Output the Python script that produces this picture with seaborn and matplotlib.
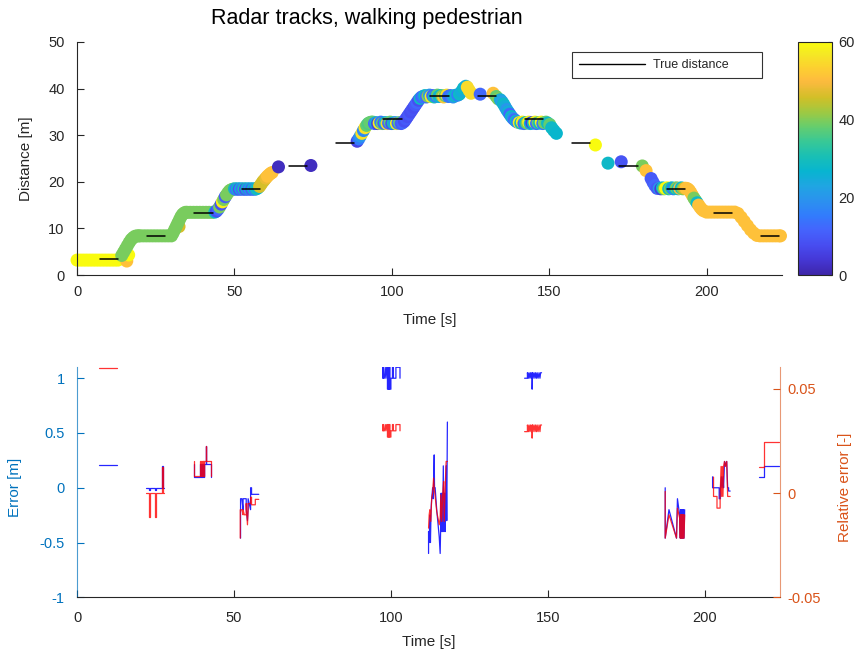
import matplotlib
matplotlib.use("Agg")
import matplotlib.pyplot as plt
import numpy as np
import pandas as pd
import seaborn as sns
from matplotlib.colors import LinearSegmentedColormap, Normalize
from matplotlib.lines import Line2D

# ---------------- data: radar track (time, distance, colour value) ----------------
track_t = [
    0, 1, 2, 3, 4, 5, 6, 7, 8, 9, 10, 11, 12, 13,
    15.0, 15.8, 16.4,
    14.2, 14.8, 15.4, 16.0, 16.6, 17.2, 17.8, 18.4, 19.0, 19.6,
    20, 21, 22, 23, 24, 25, 26, 27, 28, 29, 30,
    32.4,
    30.5, 31.0, 31.5, 32.0, 32.5, 33.0, 33.5, 34.0, 34.5,
    35, 36, 37, 38, 39, 40, 41, 42, 43,
    43.8, 44.3, 44.8, 45.3, 45.8, 46.2, 46.6, 47.1, 47.5, 48.0, 48.5, 49.0, 49.5,
    50.0, 50.5, 51.0, 51.5, 52.0, 52.5, 53.0, 53.5, 54.0, 54.5, 55.0, 55.5, 56.0, 56.5, 57.0, 57.5,
    58.0, 58.5, 59.0, 59.5, 60.0, 60.5, 61.0, 61.5, 62.0,
    64.0, 74.3,
    89.0, 89.5, 90.0, 90.5, 91.0, 91.5, 92.0, 92.5, 93.0, 93.5,
    94.0, 94.5, 95.0, 95.5, 96.0, 96.5, 97.0, 97.5, 98.0, 98.5,
    99.0, 99.5, 100.0, 100.5, 101.0, 101.5, 102.0, 102.5, 103.0, 103.5,
    104.0, 104.5, 105.0, 105.5, 106.0, 106.5, 107.0, 107.5, 108.0, 108.5, 109.0, 109.5,
    110.0, 110.5, 111.0, 111.5, 112.0, 112.5, 113.0, 113.5, 114.0, 114.5, 115.0, 115.5,
    116.0, 116.5, 117.0, 117.5, 118.0, 118.5, 119.0, 119.5, 120.0, 120.5, 121.0, 121.5,
    122.2, 122.8, 123.5, 124.0, 124.6, 125.2,
    128.1, 132.2, 133.2, 133.8,
    134.5, 135.0, 135.5, 136.0, 136.5, 137.0, 137.5, 138.0, 138.5, 139.0, 139.5, 140.0, 140.5,
    141.0, 141.5, 142.0, 142.5, 143.0, 143.5, 144.0, 144.5, 145.0, 145.5, 146.0, 146.5,
    147.0, 147.5, 148.0, 148.5, 149.0, 149.5,
    150.2, 150.8, 151.5, 152.3,
    164.7, 168.7, 172.9, 179.6, 180.8,
    182.4, 183.0, 183.6, 184.3,
    185.0, 185.5, 186.0, 186.5, 187.0, 187.5, 188.0, 188.5, 189.0, 189.5,
    190.0, 190.5, 191.0, 191.5, 192.0, 192.5, 193.0, 193.5, 194.0,
    194.5, 195.0, 195.5, 196.0, 196.5, 197.0, 197.5, 198.0, 198.5, 199.0,
    200, 201, 202, 203, 204, 205, 206, 207, 208, 209,
    210, 211, 212, 213, 214, 215, 216,
    217, 218, 219, 220, 221, 222, 223, 223.5,
]
track_d = [
    3.2, 3.2, 3.2, 3.2, 3.2, 3.2, 3.2, 3.2, 3.2, 3.2, 3.2, 3.2, 3.2, 3.2,
    3.6, 3.0, 4.3,
    4.2, 4.9, 5.6, 6.3, 7.0, 7.6, 8.0, 8.3, 8.4, 8.4,
    8.4, 8.4, 8.4, 8.4, 8.4, 8.4, 8.4, 8.4, 8.4, 8.4, 8.4,
    10.4,
    9.0, 9.7, 10.4, 11.1, 11.8, 12.5, 13.0, 13.3, 13.45,
    13.45, 13.45, 13.45, 13.45, 13.45, 13.45, 13.45, 13.45, 13.45,
    13.5, 13.7, 14.1, 14.6, 15.2, 15.7, 16.2, 16.8, 17.2, 17.7, 18.1, 18.3, 18.4,
    18.5, 18.4, 18.5, 18.4, 18.5, 18.4, 18.5, 18.4, 18.5, 18.4, 18.5, 18.4, 18.5, 18.4, 18.5, 18.7,
    19.0, 19.5, 20.0, 20.4, 20.8, 21.2, 21.5, 21.8, 22.0,
    23.2, 23.5,
    28.7, 29.2, 29.8, 30.4, 31.0, 31.6, 32.1, 32.5, 32.7, 32.8,
    32.8, 32.5, 32.7, 32.5, 32.6, 32.8, 32.5, 32.6, 32.7, 32.5,
    32.6, 32.8, 32.5, 32.6, 32.7, 32.5, 32.6, 32.7, 32.5, 32.7,
    33.0, 33.5, 34.0, 34.5, 35.0, 35.5, 36.0, 36.5, 37.0, 37.5, 37.9, 38.2,
    38.3, 38.5, 38.2, 38.4, 38.6, 38.3, 38.5, 38.2, 38.4, 38.6, 38.3, 38.5,
    38.4, 38.2, 38.5, 38.6, 38.3, 38.5, 38.4, 38.2, 38.5, 38.6, 38.6, 38.8,
    39.4, 40.1, 40.5, 40.3, 39.6, 39.0,
    38.8, 39.0, 38.3, 37.8,
    37.6, 37.2, 36.7, 36.1, 35.5, 35.0, 34.5, 34.0, 33.6, 33.3, 33.0, 32.8, 32.7,
    32.6, 32.8, 32.5, 32.7, 32.6, 32.8, 32.5, 32.7, 32.6, 32.8, 32.5, 32.7,
    32.6, 32.8, 32.5, 32.7, 32.8, 32.6,
    32.3, 31.6, 31.0, 30.4,
    27.9, 24.0, 24.3, 23.4, 22.4,
    20.7, 19.9, 19.2, 18.6,
    18.6, 18.5, 18.7, 18.5, 18.6, 18.7, 18.5, 18.6, 18.7, 18.5,
    18.6, 18.7, 18.5, 18.6, 18.7, 18.5, 18.6, 18.6, 18.5,
    18.2, 17.7, 17.1, 16.5, 16.0, 15.5, 15.0, 14.5, 14.1, 13.8,
    13.5, 13.5, 13.5, 13.5, 13.5, 13.5, 13.5, 13.5, 13.5, 13.5,
    13.2, 12.4, 11.5, 10.6, 9.7, 9.0, 8.5,
    8.4, 8.4, 8.4, 8.4, 8.4, 8.4, 8.4, 8.4,
]
track_c = [
    60, 60, 60, 60, 60, 60, 60, 60, 60, 60, 60, 60, 60, 60,
    60, 51, 60,
    39.5, 39.5, 39.5, 39.5, 39.5, 39.5, 39.5, 39.5, 39.5, 39.5,
    39.5, 39.5, 39.5, 39.5, 39.5, 39.5, 39.5, 39.5, 39.5, 39.5, 39.5,
    46,
    39.5, 39.5, 39.5, 39.5, 39.5, 39.5, 39.5, 39.5, 39.5,
    39.5, 39.5, 39.5, 39.5, 39.5, 39.5, 39.5, 39.5, 39.5,
    28, 8, 12, 39.5, 8, 58, 39.5, 10, 39.5, 39.5, 39.5, 39.5, 39.5,
    30, 14, 28, 9, 25, 12, 30, 8, 28, 12, 25, 10, 28, 15, 30, 28,
    46, 46, 46, 46, 48, 51, 51, 51, 51,
    2, 2,
    6, 15, 20, 56, 18, 56, 38, 36, 38, 38,
    38, 12, 25, 5, 58, 15, 38, 10, 28, 55,
    12, 38, 8, 30, 20, 58, 12, 38, 10, 12,
    8, 10, 8, 10, 8, 9, 8, 10, 12, 8, 28, 12,
    15, 28, 12, 40, 20, 58, 12, 30, 15, 38, 25, 28,
    40, 52, 38, 55, 15, 12, 15, 20, 28, 25, 15, 28,
    25, 28, 25, 55, 55, 55,
    12, 51, 38, 40,
    25, 22, 28, 25, 20, 25, 12, 28, 20, 12, 28, 15, 58,
    28, 58, 12, 28, 40, 58, 25, 5, 28, 58, 12, 38,
    28, 58, 15, 40, 38, 28,
    38, 28, 28, 27,
    60, 28, 9, 39.5, 51,
    10, 10, 12, 10,
    20, 5, 28, 39.5, 60, 60, 28, 39.5, 28, 15,
    28, 40, 30, 50, 28, 39.5, 46, 51, 51,
    51, 51, 51, 39.5, 39.5, 28, 51, 51, 51, 51,
    51, 51, 51, 51, 51, 51, 51, 51, 51, 51,
    51, 51, 51, 51, 51, 51, 51,
    51, 51, 51, 51, 51, 51, 51, 51,
]

# ---------------- data: true distance stations ----------------
true_start = [7.3, 22.3, 37.3, 52.3, 67.3, 82.3, 97.3, 112.3, 127.3, 142.3, 157.3, 172.3, 187.3, 202.3, 217.3]
true_end = [13.1, 28.1, 43.1, 58.1, 73.1, 88.1, 103.1, 118.1, 133.1, 148.1, 163.1, 178.1, 193.1, 208.1, 223.1]
true_dist = [3.4, 8.4, 13.4, 18.4, 23.4, 28.4, 33.4, 38.4, 38.4, 33.4, 28.4, 23.4, 18.4, 13.4, 8.4]

# ---------------- data: absolute error [m] ----------------
err_t = [
    7.1, 12.7,
    21.9, 23.0, 23.0, 23.3, 23.3, 24.9, 24.9, 25.2, 25.2, 27.2, 27.2, 27.4, 27.4, 27.8,
    37.2, 37.2, 39.1, 39.1, 39.6, 39.6, 39.8, 39.8, 40.0, 40.0, 40.2, 40.2, 40.4, 40.4, 40.6, 40.6,
    41.0, 41.0, 41.15, 41.15, 42.8, 42.8,
    52.1, 52.1, 52.5, 52.9, 52.9, 53.9, 53.9, 54.3, 54.5, 54.5, 55.3, 55.3, 55.6, 55.6, 57.9,
    97.4, 97.4, 97.6, 97.6, 97.9, 98.2, 98.4, 98.7, 98.9, 98.9, 99.1, 99.1, 99.3, 99.3,
    99.5, 99.5, 99.7, 99.7, 100.0, 100.0, 100.5, 100.5, 100.8, 100.8, 101.6, 101.6, 102.9, 102.9,
    112.0, 112.0, 112.2, 112.4, 112.6, 112.8, 113.0, 113.3, 113.5, 113.8, 113.9, 114.1, 114.6,
    115.4, 115.7, 115.9, 116.0, 116.1, 116.3, 116.5, 116.7, 116.9, 117.1, 117.3, 117.6, 117.8, 118.0,
    142.6, 143.5, 143.5, 143.8, 144.0, 144.3, 144.5, 144.8, 145.0, 145.0, 145.1,
    145.3, 145.6, 145.9, 146.1, 146.4, 146.6, 146.9, 147.2, 147.5, 147.7, 148.0,
    187.4, 187.4, 188.6, 191.0, 191.3, 192.0, 192.2, 192.3, 192.5, 192.6, 192.8, 192.9,
    193.1, 193.2, 193.4, 193.6,
    202.5, 202.5, 204.6, 204.6, 205.0, 205.0, 205.3, 205.5, 205.8, 206.0, 206.3, 206.6,
    207.0, 207.3, 207.6, 207.6, 208.1,
    217.4, 219.0, 219.0, 223.5,
]
err_v = [
    0.204, 0.204,
    0.0, 0.0, -0.025, -0.025, 0.0, 0.0, -0.025, -0.025, 0.0, 0.0, 0.2, 0.2, 0.0, 0.0,
    0.22, 0.1, 0.1, 0.22, 0.22, 0.1, 0.1, 0.22, 0.22, 0.1, 0.1, 0.22, 0.22, 0.1, 0.1, 0.22,
    0.22, 0.38, 0.38, 0.22, 0.22, 0.1,
    -0.46, -0.1, -0.1, -0.2, -0.1, -0.1, -0.2, -0.3, -0.2, -0.1, -0.2, 0.0, 0.0, -0.06, -0.06,
    1.0, 1.1, 1.1, 1.0, 1.0, 1.1, 1.0, 1.1, 1.1, 0.9, 0.9, 1.1, 1.1, 0.9,
    0.9, 1.1, 1.1, 0.9, 0.9, 1.0, 1.0, 1.1, 1.1, 1.0, 1.0, 1.1, 1.1, 1.0,
    -0.6, -0.4, -0.5, -0.25, -0.5, -0.2, -0.1, 0.0, -0.1, 0.3, 0.0, 0.0, -0.2,
    -0.45, -0.6, -0.3, -0.05, -0.4, -0.05, -0.4, 0.2, -0.4, -0.05, -0.4, 0.2, -0.3, 0.6,
    1.0, 1.0, 1.05, 1.0, 1.05, 1.0, 1.05, 1.0, 1.05, 0.9, 1.05,
    1.0, 1.05, 1.0, 1.05, 1.0, 1.05, 1.0, 1.05, 1.0, 1.05, 1.05,
    0.0, -0.46, -0.2, -0.46, -0.1, -0.25, -0.46, -0.2, -0.46, -0.2, -0.46, -0.2,
    -0.46, -0.2, -0.46, -0.2,
    0.1, 0.0, 0.0, -0.1, -0.1, 0.0, 0.1, 0.0, 0.1, 0.0, 0.24, 0.2,
    0.24, 0.0, 0.0, -0.03, -0.03,
    0.1, 0.1, 0.198, 0.198,
]
err_seg = (
    [1] * 2 + [2] * 14 + [3] * 22 + [4] * 15 + [7] * 28 + [8] * 27
    + [10] * 22 + [13] * 16 + [14] * 17 + [15] * 4
)

# ---------------- data: relative error [-] ----------------
rel_t = [
    7.1, 12.7,
    21.9, 23.0, 23.0, 23.3, 23.3, 24.9, 24.9, 25.2, 25.2, 27.2, 27.2, 27.4, 27.4, 27.8,
    37.2, 37.2, 39.1, 39.1, 39.6, 39.6, 39.8, 39.8, 40.0, 40.0, 40.2, 40.2, 40.4, 40.4, 40.6, 40.6,
    41.0, 41.0, 41.15, 41.15, 42.8, 42.8,
    52.0, 52.0, 52.5, 52.9, 52.9, 53.3, 53.9, 53.9, 54.3, 54.5, 54.5, 55.3, 55.3, 55.6, 55.6,
    56.8, 56.8, 57.9,
    97.4, 97.4, 97.6, 97.6, 97.9, 98.2, 98.4, 98.7, 98.9, 98.9, 99.1, 99.1, 99.3, 99.3,
    99.5, 99.5, 99.7, 99.7, 100.0, 100.0, 100.5, 100.5, 100.8, 100.8, 101.6, 101.6, 102.9, 102.9,
    112.0, 112.2, 112.4, 112.7, 113.0, 113.3, 113.6, 113.8, 114.1, 114.6, 115.4, 115.7,
    115.9, 116.2, 116.5, 116.8, 117.0, 117.3, 117.6, 118.0,
    142.6, 143.5, 143.5, 143.8, 144.0, 144.3, 144.5, 144.8, 145.0, 145.0, 145.1,
    145.3, 145.6, 145.9, 146.1, 146.4, 146.6, 146.9, 147.2, 147.5, 147.7, 148.0,
    187.4, 187.4, 188.6, 191.0, 191.3, 192.0, 192.2, 192.3, 192.5, 192.6, 192.8, 192.9,
    193.1, 193.2, 193.4, 193.6,
    202.8, 202.8, 203.9, 203.9, 204.9, 204.9, 205.2, 205.4, 205.6, 205.8, 206.0, 206.3,
    206.6, 207.0, 207.3, 207.6, 208.1,
    217.4, 219.0, 219.0, 223.5,
]
rel_v = [
    0.0599, 0.0599,
    0.0, 0.0, -0.0117, -0.0117, 0.0, 0.0, -0.0117, -0.0117, 0.0, 0.0, 0.0125, 0.0125, 0.0, 0.0,
    0.0152, 0.008, 0.008, 0.0152, 0.0152, 0.008, 0.008, 0.0152, 0.0152, 0.008, 0.008, 0.0152,
    0.0152, 0.008, 0.008, 0.0152, 0.0152, 0.0228, 0.0228, 0.0152, 0.0152, 0.008,
    -0.0216, -0.008, -0.008, -0.0104, -0.008, -0.0104, -0.0104, -0.005, -0.0152, -0.008, -0.005,
    -0.005, -0.002, -0.002, -0.0056, -0.0056, -0.003, -0.003,
    0.0299, 0.0329, 0.0329, 0.0299, 0.0299, 0.0329, 0.0299, 0.0329, 0.0329, 0.0269, 0.0269,
    0.0329, 0.0329, 0.0269, 0.0269, 0.0329, 0.0329, 0.0269, 0.0269, 0.0299, 0.0299, 0.0329,
    0.0329, 0.0299, 0.0299, 0.0329, 0.0329, 0.0299,
    -0.0168, -0.0104, -0.008, -0.0136, -0.0024, 0.0, 0.0072, 0.0024, -0.0016, -0.0088,
    -0.0152, -0.012, -0.0008, -0.0136, -0.0008, 0.0056, -0.0136, 0.0024, 0.0152, 0.0152,
    0.0295, 0.0295, 0.0327, 0.0295, 0.0327, 0.0295, 0.0327, 0.0295, 0.0327, 0.0264, 0.0327,
    0.0295, 0.0327, 0.0295, 0.0327, 0.0295, 0.0327, 0.0295, 0.0327, 0.0295, 0.0327, 0.0327,
    0.0008, -0.0216, -0.0104, -0.0216, -0.0072, -0.012, -0.0216, -0.0104, -0.0216, -0.0104,
    -0.0216, -0.0104, -0.0216, -0.0104, -0.0216, -0.0104,
    0.0077, -0.0016, -0.0016, -0.0072, -0.0072, -0.0016, 0.0128, -0.0016, 0.0128, -0.0016,
    0.0128, 0.0152, 0.0128, 0.0152, -0.0016, -0.0016, -0.0016,
    0.0123, 0.0123, 0.0243, 0.0243,
]
rel_seg = (
    [1] * 2 + [2] * 14 + [3] * 22 + [4] * 18 + [7] * 28 + [8] * 20
    + [10] * 22 + [13] * 16 + [14] * 17 + [15] * 4
)

colorbar_ticks = [0, 20, 40, 60]

# ---------------- parula-like colormap (row index of a 64-entry map, RGB) ----------------
parula_rows = [0, 4, 8, 12, 16, 20, 24, 28, 32, 36, 40, 41, 42, 44, 48, 52, 53, 56, 60, 63]
parula_rgb = [
    (0.2422, 0.1504, 0.6603), (0.2706, 0.2147, 0.8364), (0.2813, 0.3006, 0.9414),
    (0.2699, 0.3892, 0.9906), (0.1963, 0.4847, 0.9892), (0.1687, 0.5703, 0.9359),
    (0.1248, 0.6459, 0.8883), (0.0297, 0.7082, 0.8163), (0.0964, 0.7489, 0.7120),
    (0.2161, 0.7843, 0.5923), (0.3909, 0.8029, 0.4354), (0.4456, 0.8024, 0.3909),
    (0.5044, 0.7993, 0.3480), (0.6174, 0.7876, 0.2612), (0.8203, 0.7498, 0.1535),
    (0.9728, 0.7298, 0.2394), (0.9956, 0.7434, 0.2371), (0.9892, 0.8136, 0.1885),
    (0.9590, 0.9135, 0.1409), (0.9763, 0.9831, 0.0538),
]
parula = LinearSegmentedColormap.from_list(
    "parula", [(r / 63.0, c) for r, c in zip(parula_rows, parula_rgb)], N=256)

# ---------------- style ----------------
sns.set_theme(style="ticks")
plt.rcParams["font.family"] = ["Liberation Sans", "DejaVu Sans"]
plt.rcParams["axes.unicode_minus"] = False

DARK = "#262626"
LBLUE = (0.0, 0.447, 0.741)
LORANGE = (0.85, 0.325, 0.098)

fig = plt.figure(figsize=(8.56, 6.52), dpi=100)
ax1 = fig.add_axes([0.0900, 0.5782, 0.8236, 0.3574])
cax = fig.add_axes([0.9319, 0.5782, 0.0397, 0.3574])
ax2 = fig.add_axes([0.0900, 0.0839, 0.8213, 0.3528])
ax3 = ax2.twinx()

# ---------------- top plot ----------------
df_track = pd.DataFrame({"t": track_t, "d": track_d, "c": track_c})
sns.scatterplot(data=df_track, x="t", y="d", hue="c", palette=parula, hue_norm=(0, 60),
                s=88, linewidth=0, legend=False, ax=ax1, clip_on=False, zorder=2)

true_rows = []
for i, (a, b, d) in enumerate(zip(true_start, true_end, true_dist)):
    true_rows.append({"t": a, "d": d, "seg": i})
    true_rows.append({"t": b, "d": d, "seg": i})
df_true = pd.DataFrame(true_rows)
sns.lineplot(data=df_true, x="t", y="d", units="seg", estimator=None, color="black",
             lw=1.1, ax=ax1, legend=False, zorder=3)

ax1.set_xlim(0, 224)
ax1.set_ylim(0, 50)
ax1.set_xticks([0, 50, 100, 150, 200])
ax1.set_yticks([0, 10, 20, 30, 40, 50])
for s in ["top", "right"]:
    ax1.spines[s].set_visible(False)
for s in ["left", "bottom"]:
    ax1.spines[s].set_color(DARK)
    ax1.spines[s].set_linewidth(0.8)
ax1.tick_params(direction="in", length=5, width=0.8, colors=DARK, labelsize=10.5)
ax1.tick_params(axis="y", pad=9)
ax1.tick_params(axis="x", pad=7)
ax1.set_xlabel("Time [s]", fontsize=11, color=DARK)
ax1.set_ylabel("Distance [m]", fontsize=11, color=DARK)
ax1.xaxis.set_label_coords(0.5, -0.162)
ax1.yaxis.set_label_coords(-0.062, 0.5)

handle = Line2D([0], [0], color="black", lw=1.0)
leg = ax1.legend(handles=[handle], labels=["True distance"], loc="upper left",
                 bbox_to_anchor=(0.702, 0.828, 0.27, 0.129), mode="expand",
                 frameon=True, fancybox=False, edgecolor="black", handlelength=5.3,
                 borderaxespad=0, borderpad=0.55, handletextpad=0.6, fontsize=9)
leg.get_frame().set_linewidth(0.8)

sm = plt.cm.ScalarMappable(norm=Normalize(0, 60), cmap=parula)
cb = fig.colorbar(sm, cax=cax)
cb.set_ticks(colorbar_ticks)
cb.outline.set_edgecolor(DARK)
cb.outline.set_linewidth(0.8)
cax.tick_params(direction="in", length=3, width=0.8, colors=DARK, labelsize=10.5, pad=5)

fig.text(0.429, 0.972, "Radar tracks, walking pedestrian", ha="center", va="center",
         fontsize=15.5, color="black")

# ---------------- bottom plot ----------------
df_err = pd.DataFrame({"t": err_t, "v": err_v, "seg": err_seg})
df_rel = pd.DataFrame({"t": rel_t, "v": rel_v, "seg": rel_seg})
sns.lineplot(data=df_err, x="t", y="v", units="seg", estimator=None, sort=False,
             color="#0000ff", lw=0.9, alpha=0.85, ax=ax2, legend=False)
sns.lineplot(data=df_rel, x="t", y="v", units="seg", estimator=None, sort=False,
             color="#ff0000", lw=0.9, alpha=0.8, ax=ax3, legend=False)

ax2.set_xlim(0, 224)
ax2.set_ylim(-1, 1.1)
ax3.set_ylim(-0.05, 0.0604)
ax2.set_xticks([0, 50, 100, 150, 200])
ax2.set_yticks([-1, -0.5, 0, 0.5, 1])
ax2.set_yticklabels(["-1", "-0.5", "0", "0.5", "1"])
ax3.set_yticks([-0.05, 0, 0.05])
ax3.set_yticklabels(["-0.05", "0", "0.05"])

ax2.spines["top"].set_visible(False)
ax2.spines["right"].set_visible(False)
ax3.spines["top"].set_visible(False)
ax3.spines["left"].set_visible(False)
ax3.spines["bottom"].set_visible(False)
ax2.spines["left"].set_color(LBLUE)
ax2.spines["left"].set_alpha(0.7)
ax2.spines["bottom"].set_color(DARK)
ax3.spines["right"].set_color(LORANGE)
ax3.spines["right"].set_alpha(0.6)
for sp in [ax2.spines["left"], ax2.spines["bottom"], ax3.spines["right"]]:
    sp.set_linewidth(0.8)

ax2.tick_params(axis="x", direction="in", length=5, width=0.8, colors=DARK, labelsize=10.5, pad=10)
ax2.tick_params(axis="y", direction="in", length=5, width=0.8, colors=LBLUE, labelsize=10.5, pad=9)
ax3.tick_params(axis="y", direction="in", length=5, width=0.8, colors=LORANGE, labelsize=10.5, pad=5)

ax2.set_xlabel("Time [s]", fontsize=11, color=DARK)
ax2.set_ylabel("Error [m]", fontsize=11, color=LBLUE)
ax3.set_ylabel("Relative error [-]", fontsize=11, color=LORANGE)
ax2.xaxis.set_label_coords(0.5, -0.162)
ax2.yaxis.set_label_coords(-0.079, 0.48)
ax3.yaxis.set_label_coords(1.083, 0.48)

fig.savefig("out.png", dpi=100)
